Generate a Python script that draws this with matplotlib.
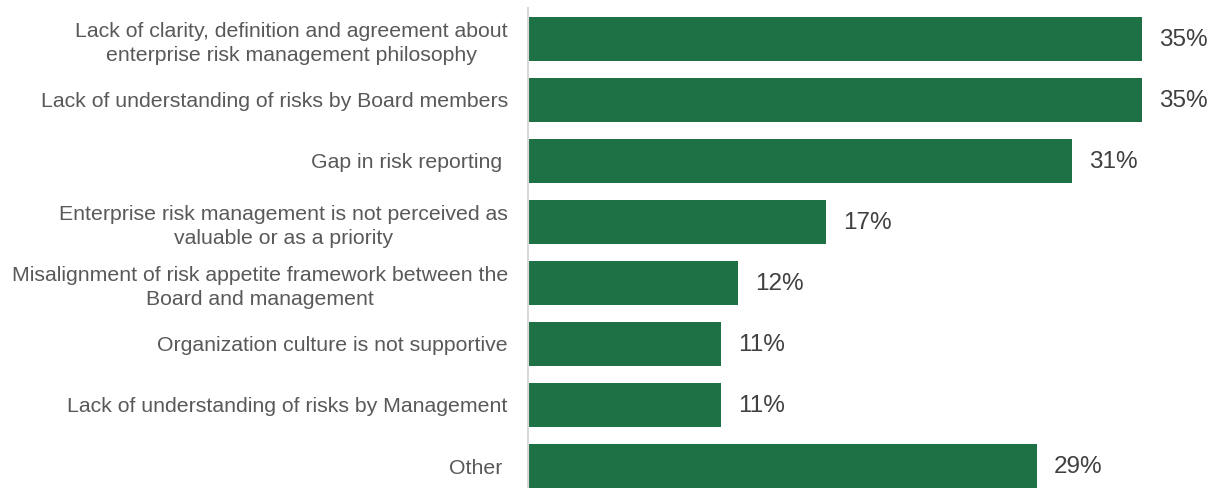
import matplotlib.pyplot as plt

plt.rcParams["font.family"] = ["Liberation Sans", "DejaVu Sans"]

categories = [
    "Lack of clarity, definition and agreement about\nenterprise risk management philosophy",
    "Lack of understanding of risks by Board members",
    "Gap in risk reporting ",
    "Enterprise risk management is not perceived as\nvaluable or as a priority",
    "Misalignment of risk appetite framework between the\nBoard and management",
    "Organization culture is not supportive",
    "Lack of understanding of risks by Management",
    "Other ",
]
values = [35, 35, 31, 17, 12, 11, 11, 29]

BAR_COLOR = "#1e7145"
LABEL_COLOR = "#595959"
VALUE_COLOR = "#404040"

fig = plt.figure(figsize=(12.12, 4.88), dpi=100)
ax = fig.add_axes([528 / 1212, 0, 684 / 1212, 480 / 488])

pos = list(range(len(values)))
ax.barh(pos, values, height=0.72, color=BAR_COLOR)

# percentage labels just past the end of each bar
for y, v in zip(pos, values):
    ax.text(v + 0.97, y + 0.02, f"{v}%", va="center", ha="left",
            fontsize=17.5, color=VALUE_COLOR)

ax.set_xlim(0, 39)
ax.set_ylim(7.36, -0.5)
ax.set_xticks([])
ax.set_yticks(pos)
ax.set_yticklabels(categories, fontsize=15.3, color=LABEL_COLOR,
                   multialignment="center", linespacing=1.35)
ax.tick_params(axis="y", length=0, pad=14.5)

for side in ["top", "right", "bottom"]:
    ax.spines[side].set_visible(False)
ax.spines["left"].set_color("#d9d9d9")
ax.spines["left"].set_linewidth(1.5)

fig.savefig("out.png", dpi=100)
